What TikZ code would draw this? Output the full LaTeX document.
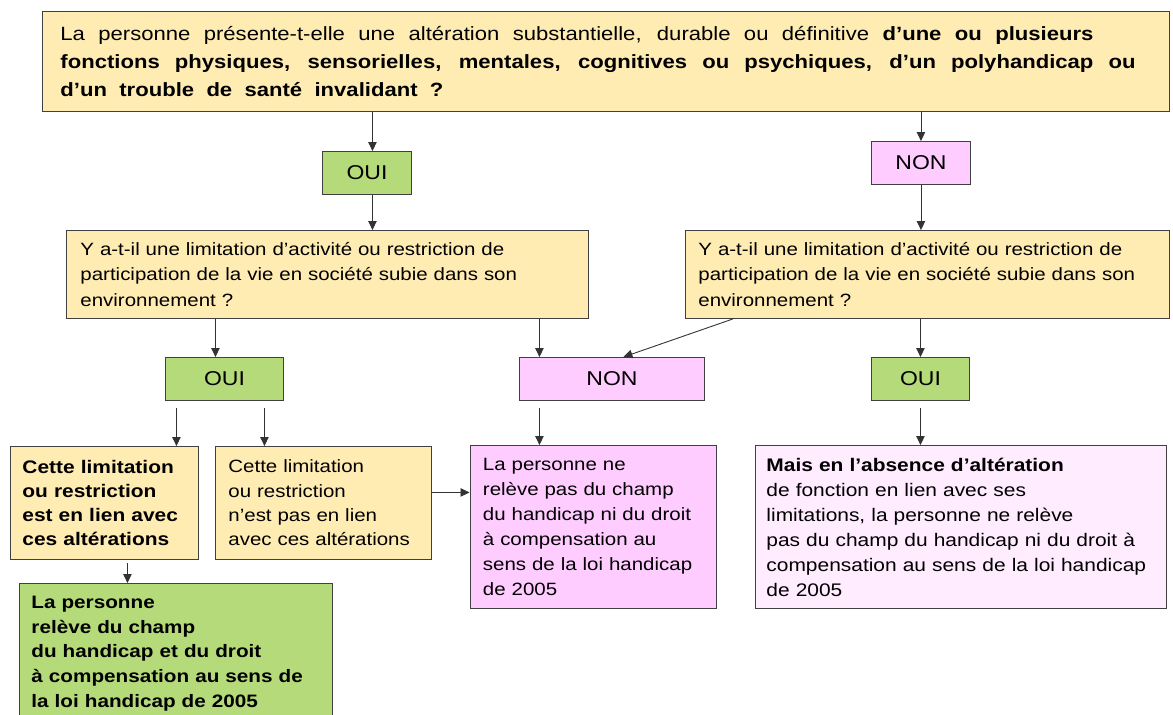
\documentclass[tikz,border=0pt]{standalone}
\usepackage{fontspec}
\setmainfont[FakeStretch=1.15]{Liberation Sans}
\usetikzlibrary{arrows.meta}
\definecolor{yfill}{HTML}{FFECB3}
\definecolor{gfill}{HTML}{B5DA7A}
\definecolor{pfill}{HTML}{FFCCFF}
\definecolor{lpfill}{HTML}{FFECFF}
\definecolor{bordc}{HTML}{404040}
\definecolor{arrc}{HTML}{333333}
\newcommand{\stretchline}[2]{\leavevmode\hbox to #1{\spaceskip=0.3em plus 1fil\relax\xspaceskip=0.3em plus 1fil\relax #2}}
\begin{document}
\begin{tikzpicture}[x=1pt,y=1pt,
  box/.style={draw=bordc, line width=0.9pt, anchor=north west, inner ysep=0pt, align=left},
  ybox/.style={box, fill=yfill},
  gbox/.style={box, fill=gfill},
  pbox/.style={box, fill=pfill},
  lpbox/.style={box, fill=lpfill},
  answer/.style={inner sep=0pt, align=center, font=\fontsize{20}{24}\selectfont},
  arr/.style={draw=arrc, line width=0.9pt, -{Triangle[width=8.5pt,length=9pt]}}
]
\useasboundingbox (0,0) rectangle (1173,-715);

% top question
\node[ybox, minimum width=1127pt, minimum height=100pt, text width=1091pt, inner xsep=18pt,
      font=\fontsize{19.2}{27.8}\selectfont] (top) at (42,-11)
 {\stretchline{1033pt}{La personne présente-t-elle une altération substantielle, durable ou définitive \textbf{d’une ou plusieurs}}\\
  \stretchline{1075pt}{\textbf{fonctions physiques, sensorielles, mentales, cognitives ou psychiques, d’un polyhandicap ou}}\\
  \stretchline{383pt}{\textbf{d’un trouble de santé invalidant ?}}};

% first answers
\node[gbox, answer, minimum width=89pt, minimum height=43pt] (oui1) at (322,-151) {OUI};
\node[pbox, answer, minimum width=99pt, minimum height=43pt] (non1) at (871,-141) {NON};

% second questions
\node[ybox, minimum width=522pt, minimum height=88pt, text width=494pt, inner xsep=14pt,
      font=\fontsize{17.8}{25.5}\selectfont] (ql) at (66,-230)
 {Y a-t-il une limitation d’activité ou restriction de\\
  participation de la vie en société subie dans son\\
  environnement ?};
\node[ybox, minimum width=484pt, minimum height=88pt, text width=458pt, inner xsep=13pt,
      font=\fontsize{17.8}{25.5}\selectfont] (qr) at (685,-230)
 {Y a-t-il une limitation d’activité ou restriction de\\
  participation de la vie en société subie dans son\\
  environnement ?};

% second answers
\node[gbox, answer, minimum width=118pt, minimum height=43pt] (oui2) at (165,-357) {OUI};
\node[pbox, answer, minimum width=185pt, minimum height=43pt] (non2) at (519,-357) {NON};
\node[gbox, answer, minimum width=98pt, minimum height=43pt] (oui3) at (871,-357) {OUI};

% result boxes
\node[ybox, minimum width=188pt, minimum height=113pt, text width=164pt, inner xsep=12pt,
      font=\bfseries\fontsize{18.2}{24.3}\selectfont] (A) at (10,-446)
 {Cette limitation\\ ou restriction\\ est en lien avec\\ ces altérations};
\node[ybox, minimum width=216pt, minimum height=113pt, text width=190pt, inner xsep=13pt,
      font=\fontsize{17.8}{24.3}\selectfont] (B) at (215,-446)
 {Cette limitation\\ ou restriction\\ n’est pas en lien\\ avec ces altérations};
\node[gbox, minimum width=313pt, minimum height=140pt, text width=289pt, inner xsep=12pt,
      font=\bfseries\fontsize{18}{24.7}\selectfont] (C) at (19,-583)
 {La personne\\ relève du champ\\ du handicap et du droit\\ à compensation au sens de\\ la loi handicap de 2005};
\node[pbox, minimum width=246pt, minimum height=163pt, text width=220pt, inner xsep=13pt,
      font=\fontsize{17.8}{25}\selectfont] (D) at (469.5,-445)
 {La personne ne\\ relève pas du champ\\ du handicap ni du droit\\ à compensation au\\ sens de la loi handicap\\ de 2005};
\node[lpbox, minimum width=411pt, minimum height=163pt, text width=389pt, inner xsep=11pt,
      font=\fontsize{18.2}{25}\selectfont] (E) at (755,-445)
 {\textbf{Mais en l’absence d’altération}\\ de fonction en lien avec ses\\ limitations, la personne ne relève\\ pas du champ du handicap ni du droit à\\ compensation au sens de la loi handicap\\ de 2005};

% connectors
\draw[arr] ([xshift=5.5pt]oui1.north |- top.south) -- ([xshift=5.5pt]oui1.north);
\draw[arr] (non1.north |- top.south) -- (non1.north);
\draw[arr] ([xshift=5.5pt]oui1.south) -- ([xshift=5.5pt]oui1.south |- ql.north);
\draw[arr] (non1.south) -- (non1.south |- qr.north);
\draw[arr] ([xshift=-9pt]oui2.north |- ql.south) -- ([xshift=-9pt]oui2.north);
\draw[arr] ([xshift=-72.5pt]non2.north |- ql.south) -- ([xshift=-72.5pt]non2.north);
\draw[arr] ([xshift=48pt]qr.south west) -- ([xshift=11.5pt]non2.north);
\draw[arr] (oui3.north |- qr.south) -- (oui3.north);
\draw[arr] ([xshift=-48pt,yshift=-7pt]oui2.south) -- ([xshift=-48pt]oui2.south |- A.north);
\draw[arr] ([xshift=40pt,yshift=-7pt]oui2.south) -- ([xshift=40pt]oui2.south |- B.north);
\draw[arr] ([xshift=-72.5pt,yshift=-7pt]non2.south) -- ([xshift=-72.5pt]non2.south |- D.north);
\draw[arr] ([yshift=-7pt]oui3.south) -- (oui3.south |- E.north);
\draw[arr] ([xshift=23pt,yshift=-3pt]A.south) -- ([xshift=23pt]A.south |- C.north);
\draw[arr] ([yshift=10.5pt]B.east) -- ([yshift=10.5pt]B.east -| D.west);
\end{tikzpicture}
\end{document}
